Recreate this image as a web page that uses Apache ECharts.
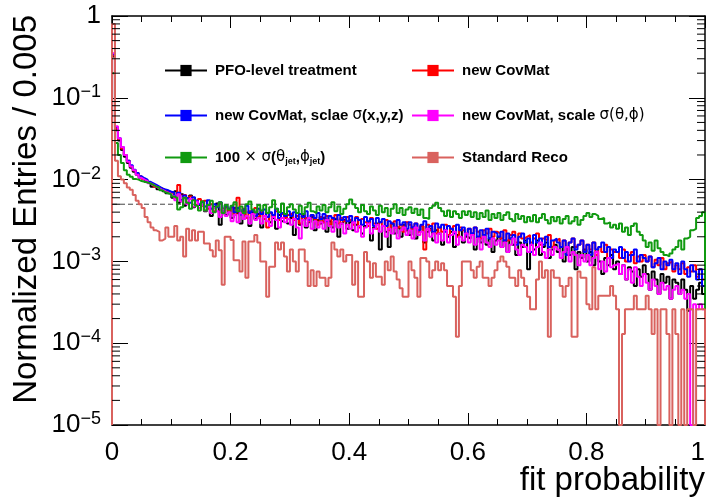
<!DOCTYPE html>
<html>
<head>
<meta charset="utf-8">
<script src="https://cdn.jsdelivr.net/npm/echarts@6/dist/echarts.min.js"></script>
<style>
html,body{margin:0;padding:0;background:#fff;}
#chart{width:712px;height:499px;}
</style>
</head>
<body>
<div id="chart"></div>
<script>
// ---------------- data (values in units of 10^-3, one per 0.005-wide bin, 0 = empty bin) ----------------
const UNIT = 1e-3;
const BIN_WIDTH = 0.005;
const Y_MIN = 1e-5, Y_MAX = 1;
const REF_LINE = 0.005;

const seriesNames = [
  'PFO-level treatment',
  'new CovMat',
  'new CovMat, sclae σ(x,y,z)',
  'new CovMat, scale σ(θ,ϕ)',
  '100 × σ(θjet,ϕjet)',
  'Standard Reco'
];

const pfoLevel = [
  320,40,30,23,19,16,14,12.5,11.5,10.5,
  10,9.4,9.0,8.2,8.4,7.6,7.8,7.2,6.8,7.0,
  6.0,7.2,5.2,6.6,4.8,5.9,6.4,4.6,5.5,4.9,
  5.4,4.1,4.9,3.6,4.6,5.1,2.8,4.4,3.7,4.3,
  3.4,4.5,3.9,2.9,4.2,3.5,2.7,4.0,3.3,3.8,
  2.6,3.6,3.9,3.0,3.4,2.5,3.7,3.1,3.5,2.9,
  3.4,2.1,3.3,2.8,3.6,2.6,3.0,3.5,2.4,3.2,
  2.9,3.4,2.3,3.1,2.6,3.3,2.0,2.9,3.2,2.5,
  3.0,2.4,2.8,3.2,2.2,2.7,3.0,1.8,2.6,2.9,
  1.4,2.7,2.3,1.5,2.9,2.2,2.6,2.0,2.8,2.4,
  2.1,2.6,1.9,2.4,2.7,1.7,2.3,2.5,1.8,2.4,
  2.2,1.6,2.4,2.0,2.3,1.5,2.1,2.4,1.7,2.0,
  1.9,2.2,1.4,2.0,1.7,2.1,1.6,1.9,1.3,1.8,
  2.0,1.5,1.8,1.3,1.9,1.6,1.2,1.7,1.5,1.8,
  0.8,1.6,1.4,1.8,1.2,1.5,1.7,1.1,1.4,1.6,
  1.3,1.5,1.0,1.4,1.2,1.5,0.8,1.3,1.1,1.4,
  1.0,1.3,0.9,1.2,1.0,0.7,1.1,0.9,1.2,0.8,
  1.0,0.7,0.9,0.6,0.85,0.75,0.5,0.8,0.65,0.9,
  0.7,0.45,0.75,0.6,0.4,0.7,0.55,0.65,0.35,0.6,
  0.55,0.4,0.6,0.45,0.25,0.5,0.35,0.45,0.55,0.4
];

const newCovMat = [
  330,42,31,24,20,17,14.5,13,12,11,
  10.2,9.8,9.2,8.8,8.2,8.0,7.8,7.4,7.2,7.0,
  6.8,6.0,8.6,5.6,6.5,5.2,6.2,5.7,4.9,5.8,
  4.8,5.5,4.4,5.0,4.1,4.7,5.2,3.9,4.6,4.2,
  4.6,3.7,6.0,3.9,4.4,3.4,4.1,3.8,4.5,3.5,
  4.0,3.3,2.6,3.9,3.5,4.1,3.2,3.8,3.4,3.7,
  3.9,3.2,3.6,2.9,3.8,3.4,3.1,3.7,3.3,2.8,
  3.5,3.0,3.6,2.8,3.3,3.7,2.9,3.4,3.1,3.5,
  3.2,2.8,3.5,2.6,3.3,3.0,2.7,3.4,2.9,2.5,
  3.0,2.7,3.2,2.4,2.9,3.1,2.6,2.8,2.3,3.0,
  2.8,2.5,2.9,2.3,2.7,1.4,2.8,2.4,2.9,2.2,
  2.6,2.3,2.8,2.1,2.5,2.7,2.0,2.6,2.4,2.2,
  2.5,2.1,2.6,2.3,1.9,2.4,2.2,2.5,2.0,2.3,
  2.2,1.9,2.4,1.8,2.1,2.3,1.7,2.2,1.9,2.0,
  2.1,1.7,1.9,2.2,1.6,1.9,1.8,2.1,1.5,1.8,
  1.9,1.5,1.8,1.4,1.7,1.9,1.5,1.6,1.8,1.3,
  1.6,1.4,1.7,1.2,1.5,1.3,1.6,1.1,1.4,1.3,
  1.3,1.1,1.4,1.0,1.2,1.3,0.95,1.15,1.0,1.2,
  1.0,1.15,0.85,1.05,0.9,1.1,0.8,0.95,1.0,0.75,
  0.9,0.8,0.95,0.7,0.85,0.75,0.9,0.65,0.8,0.6
];

const scaledXYZ = [
  340,44,32,25,20,17,15,13.2,12,11,
  10.4,10,9.4,9,8.6,8.2,7.8,7.6,7.4,7.1,
  7.0,6.2,6.9,5.6,6.4,5.9,5.2,6.1,5.5,5.0,
  5.3,4.7,5.6,4.4,5.0,4.6,5.3,4.2,4.8,4.4,
  4.7,4.0,4.5,3.7,4.3,4.8,3.9,4.2,3.6,4.4,
  3.8,4.3,3.5,4.0,3.7,4.4,3.4,3.9,3.6,4.1,
  3.6,4.0,3.3,3.8,3.5,4.1,3.2,3.7,3.4,3.9,
  3.3,3.8,3.1,3.6,3.4,3.0,3.7,3.2,3.5,3.1,
  3.6,3.0,3.4,3.2,2.8,3.5,3.1,3.3,2.7,3.4,
  3.0,3.3,2.7,3.1,2.9,2.6,3.2,2.8,3.0,2.5,
  3.0,2.6,2.9,2.4,2.8,3.1,2.5,2.7,2.3,2.9,
  2.6,2.8,2.3,2.7,2.5,2.2,2.8,2.4,2.6,2.1,
  2.5,2.2,2.6,2.0,2.4,2.1,2.5,1.9,2.3,2.2,
  2.0,2.3,1.8,2.2,1.9,2.1,1.6,2.0,2.2,1.7,
  1.9,1.3,2.1,1.7,1.9,1.6,2.0,1.5,1.8,1.9,
  1.7,1.5,1.8,1.2,1.7,1.9,1.4,1.6,1.8,1.3,
  1.6,1.2,1.7,1.4,1.5,1.7,1.3,1.5,1.1,1.4,
  1.3,1.5,1.1,1.3,1.0,1.2,1.4,1.0,1.2,1.1,
  1.0,1.15,0.85,0.95,1.1,0.8,1.0,0.9,1.05,0.8,
  0.95,0.7,1.0,0.8,0.65,0.9,0.75,0.6,0.8,0.5
];

const scaledThetaPhi = [
  350,45,32,25,20,16.5,14.5,13,11.5,10.5,
  10,9.6,9.0,8.6,8.2,7.8,7.5,7.2,6.9,6.7,
  6.3,5.6,6.6,5.4,6.0,5.0,5.8,4.7,5.4,4.5,
  4.9,4.2,4.8,3.9,4.5,4.1,3.5,4.3,3.6,4.0,
  3.1,3.7,3.0,3.9,3.3,3.6,2.9,3.8,3.2,3.4,
  2.9,3.6,3.1,2.7,3.5,3.2,2.6,3.4,3.0,3.3,
  2.8,3.3,2.6,1.9,3.2,2.7,3.4,2.5,3.1,2.6,
  3.0,2.5,3.2,2.7,2.3,3.1,2.6,2.9,2.2,2.8,
  2.5,3.0,2.3,2.7,2.0,2.6,2.9,2.2,2.5,2.8,
  2.3,2.7,2.0,2.5,2.2,2.6,1.9,2.4,2.6,2.1,
  2.4,1.9,2.6,2.1,2.3,1.8,2.5,2.0,2.2,1.7,
  2.2,1.8,2.4,1.7,2.1,2.3,1.6,2.0,1.8,2.2,
  1.7,2.1,1.6,1.9,1.4,2.0,1.7,1.5,1.9,1.6,
  1.8,1.5,1.7,1.3,1.6,1.9,1.4,1.2,1.6,1.5,
  1.3,1.6,1.2,1.5,1.7,1.3,1.1,1.4,1.2,1.5,
  1.4,1.1,1.3,1.5,1.0,1.3,1.2,0.9,1.2,1.0,
  1.2,0.9,1.1,1.3,0.8,1.0,0.75,1.1,0.85,0.9,
  0.95,0.7,0.9,0.6,0.8,0.55,0.85,0.65,0.5,0.7,
  0.55,0.45,0.6,0.5,0.4,0.55,0.45,0.5,0.35,0.45,
  0.5,0.4,0.45,0.35,0.4,0,0.3,0.26,0.3,0.26
];

const sigmaJet100 = [
  200,28,20,16,13,11.5,10.8,10.2,10,9.6,
  9.4,9.2,9.0,8.6,8.2,8.0,7.4,7.0,6.8,6.6,
  6.2,6.0,4.3,4.6,6.0,5.2,4.4,5.6,4.8,4.2,
  5.4,4.2,4.9,5.5,4.0,4.7,5.3,3.9,4.9,4.3,
  4.8,5.3,4.1,4.7,3.9,5.0,5.4,4.3,4.0,4.9,
  4.2,4.9,3.9,4.6,5.6,4.4,4.0,5.1,3.8,4.6,
  5.0,4.3,3.9,4.8,3.8,4.6,5.2,4.1,3.9,4.7,
  4.2,4.9,4.0,4.6,5.3,4.1,4.7,3.8,4.4,5.0,
  5.7,5.0,4.5,4.0,4.9,4.1,3.8,4.7,4.2,3.7,
  4.8,4.0,4.5,3.6,4.4,5.0,3.9,4.5,3.7,4.3,
  4.6,3.9,4.4,3.7,4.3,3.4,3.3,4.5,4.8,5.2,
  4.5,4.1,3.6,4.2,3.5,4.1,3.8,3.4,4.1,3.7,
  4.1,3.5,4.0,3.3,3.9,3.5,4.2,3.2,3.8,3.4,
  3.9,3.2,3.7,4.0,3.3,3.1,3.8,3.3,3.6,3.0,
  3.5,3.1,3.7,3.0,3.4,3.8,3.2,2.9,3.5,3.1,
  3.5,2.9,3.3,3.6,2.9,3.1,3.5,2.8,3.2,3.6,
  3.9,3.5,3.8,3.6,3.3,3.4,2.9,3.0,2.6,2.8,
  2.5,2.9,2.3,2.6,2.1,2.7,2.9,2.3,2.1,1.8,
  1.5,1.7,1.35,1.8,1.45,1.3,1.2,1.15,1.25,1.4,
  1.5,1.8,1.4,1.9,2.0,2.4,2.5,3.4,3.6,4.0
];

const standardReco = [
  800,17,11,10,9,8,7.5,6.5,5.5,5,
  4.5,3.5,3.0,2.6,2.4,2.3,1.8,1.9,2.6,2.0,
  2.0,2.7,1.8,2.0,1.15,2.5,1.8,2.4,1.8,2.3,
  2.3,1.65,1.65,1.37,1.15,1.8,1.37,0.52,2.0,2.0,
  1.83,1.03,1.03,0.75,1.75,0.63,1.75,1.75,2.1,1.7,
  1.0,1.0,0.37,0.86,0.86,1.7,1.4,1.7,1.15,0.75,
  1.4,1.0,0.75,1.4,1.4,1.0,0.5,0.78,0.5,0.75,
  0.63,0.63,0.5,0.63,1.7,1.4,1.15,1.4,1.0,1.2,
  1.2,0.52,1.0,0.37,0.37,1.3,1.0,0.63,0.95,0.65,
  0.65,0.52,1.0,0.78,1.15,0.75,0.6,0.47,0.37,0.37,
  1.0,0.78,0.63,0.37,1.1,1.1,1.0,0.63,0.78,1.0,
  0.78,0.95,0.78,0.5,0.5,0.37,0.12,0.5,1.0,1.0,
  1.0,0.78,0.63,0.86,1.0,0.63,0.63,0.5,0.63,0.78,
  1.0,1.15,1.0,0.86,0.63,0.63,0.5,0.78,0.63,0.5,
  0.37,0.26,0.26,0.6,1.0,0.63,0.78,0.12,0.78,0.63,
  0.63,0.5,0.37,0.5,0.63,0.12,0.12,0.75,0.63,0.63,
  0.3,0.26,0.85,0.26,0.38,0.38,0.38,0.38,0.5,0.38,
  0.26,0,0.13,0.26,0.26,0.26,0.38,0.26,0.26,0.26,
  0.38,0.26,0.13,0.26,0,0.26,0.26,0.13,0,0.26,
  0.13,0,0.26,0,0.26,0.26,0,0.26,0.26,0.26
];

const xTickLabels = ['0', '0.2', '0.4', '0.6', '0.8', '1'];
const seriesValues = [pfoLevel, newCovMat, scaledXYZ, scaledThetaPhi, sigmaJet100, standardReco];
const seriesColors = ['#000000', '#ff0000', '#0000ff', '#ff00ff', '#109a10', '#d9625e'];

// ---------------- chart ----------------
const FONT = "'Liberation Sans', Arial, Helvetica, sans-serif";
const GREEK = "'DejaVu Sans', sans-serif";

function histPoints(vals) {
  const pts = [[0, Y_MIN]];
  vals.forEach((v, i) => pts.push([+(i * BIN_WIDTH).toFixed(4), v > 0 ? v * UNIT : Y_MIN]));
  const last = vals[vals.length - 1];
  pts.push([1, last > 0 ? last * UNIT : Y_MIN]);
  pts.push([1, Y_MIN]);
  return pts;
}

const minorLogTicks = [];
for (let d = -5; d < 0; d++) for (let k = 2; k <= 9; k++) minorLogTicks.push([0, k * Math.pow(10, d)]);

const legendRich = {
  g: { fontFamily: GREEK, fontWeight: 'normal', fontSize: 15, color: '#000' },
  sub: { fontFamily: FONT, fontWeight: 'bold', fontSize: 9, color: '#000', padding: [9, 0, 0, 0] }
};
const legendLabels = {
  'PFO-level treatment': 'PFO-level treatment',
  'new CovMat': 'new CovMat',
  'new CovMat, sclae σ(x,y,z)': 'new CovMat, sclae {g|σ}(x,y,z)',
  'new CovMat, scale σ(θ,ϕ)': 'new CovMat, scale {g|σ(θ,ϕ)}',
  '100 × σ(θjet,ϕjet)': '100 {g|× σ}({g|θ}{sub|jet},{g|ϕ}{sub|jet})',
  'Standard Reco': 'Standard Reco'
};
const legendPos = [[164, 72], [411, 72], [164, 117], [411, 117], [164, 159], [411, 159]];

const legends = seriesNames.map((n, i) => ({
  data: [n],
  left: legendPos[i][0],
  top: legendPos[i][1] - 9,
  padding: 0,
  itemWidth: 42,
  itemHeight: 14,
  selectedMode: false,
  formatter: (name) => legendLabels[name],
  textStyle: { fontFamily: FONT, fontWeight: 'bold', fontSize: 15, color: '#000', rich: legendRich, padding: [0, 0, 0, 3] }
}));

const lineSeries = seriesNames.map((n, i) => ({
  name: n,
  type: 'line',
  step: 'end',
  data: histPoints(seriesValues[i]),
  symbol: 'rect',
  showSymbol: false,
  silent: true,
  clip: true,
  lineStyle: { color: seriesColors[i], width: 2 },
  itemStyle: { color: seriesColors[i] },
  z: 2 + i
}));

const refLineSeries = {
  name: 'reference',
  type: 'line',
  data: [[0, REF_LINE], [1, REF_LINE]],
  symbol: 'none',
  silent: true,
  lineStyle: { color: '#444', width: 1, type: [5, 3] },
  z: 1
};

const minorTickSeries = {
  type: 'custom',
  silent: true,
  data: minorLogTicks,
  z: 20,
  renderItem: (params, api) => {
    const v = api.value(1);
    const l = api.coord([0, v]);
    const r = api.coord([1, v]);
    return {
      type: 'group',
      children: [
        { type: 'line', shape: { x1: l[0], y1: l[1], x2: l[0] + 8, y2: l[1] }, style: { stroke: '#000', lineWidth: 1 } },
        { type: 'line', shape: { x1: r[0] - 8, y1: r[1], x2: r[0], y2: r[1] }, style: { stroke: '#000', lineWidth: 1 } }
      ]
    };
  }
};

const xAxisBase = {
  type: 'value', min: 0, max: 1, interval: 0.2,
  axisLine: { show: true, onZero: false, lineStyle: { color: '#000', width: 1.5 } },
  axisTick: { show: true, inside: true, length: 12, lineStyle: { color: '#000', width: 1 } },
  minorTick: { show: true, splitNumber: 4, length: 6, lineStyle: { color: '#000', width: 1 } },
  splitLine: { show: false }, minorSplitLine: { show: false }
};
const yAxisBase = {
  type: 'log', logBase: 10, min: Y_MIN, max: Y_MAX,
  axisLine: { show: true, onZero: false, lineStyle: { color: '#000', width: 1.5 } },
  axisTick: { show: true, inside: true, length: 16, lineStyle: { color: '#000', width: 1 } },
  splitLine: { show: false }
};

const option = {
  backgroundColor: '#fff',
  animation: false,
  grid: { left: 112, right: 7, top: 16, bottom: 74, containLabel: false },
  legend: legends,
  xAxis: [
    Object.assign({}, xAxisBase, {
      position: 'bottom',
      axisLabel: {
        show: true, margin: 15, color: '#000', fontFamily: FONT, fontSize: 26, alignMaxLabel: 'right',
        formatter: (v) => xTickLabels[Math.round(v / 0.2)]
      }
    }),
    Object.assign({}, xAxisBase, { position: 'top', axisLabel: { show: false } })
  ],
  yAxis: [
    Object.assign({}, yAxisBase, {
      position: 'left',
      axisLabel: {
        show: true, margin: 11,
        formatter: (v) => {
          const e = Math.round(Math.log10(v));
          return e === 0 ? '{b|1}' : '{b|10}{e|\u2212' + (-e) + '}';
        },
        rich: {
          b: { fontFamily: FONT, fontSize: 26, color: '#000' },
          e: { fontFamily: FONT, fontSize: 18, color: '#000', padding: [0, 0, 12, 0] }
        }
      }
    }),
    Object.assign({}, yAxisBase, { position: 'right', axisLabel: { show: false } })
  ],
  series: [refLineSeries].concat(lineSeries, [minorTickSeries]),
  graphic: [
    {
      type: 'text', x: 705, y: 481, silent: true,
      style: { text: 'fit probability', fontFamily: FONT, fontSize: 33, fill: '#000', align: 'right', verticalAlign: 'middle' }
    },
    {
      type: 'text', x: 27, y: 15, rotation: Math.PI / 2, silent: true,
      style: { text: 'Normalized Entries / 0.005', fontFamily: FONT, fontSize: 33, fill: '#000', align: 'right', verticalAlign: 'middle' }
    }
  ]
};

const chart = echarts.init(document.getElementById('chart'), null, { renderer: 'canvas' });
chart.setOption(option);
</script>
</body>
</html>
